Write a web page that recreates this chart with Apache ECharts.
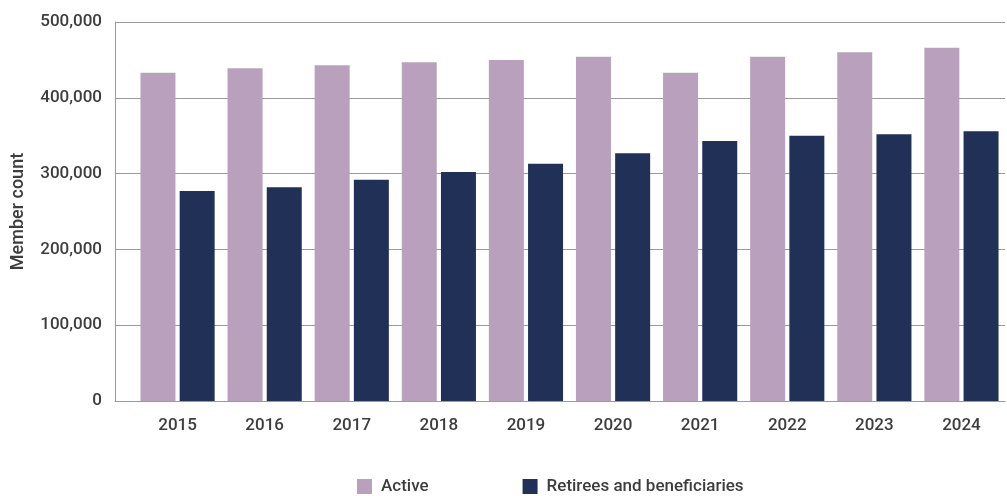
<!DOCTYPE html>
<html>
<head>
<meta charset="utf-8">
<title>Member count</title>
<script src="https://cdn.jsdelivr.net/npm/echarts@6/dist/echarts.min.js"></script>
<style>
  html, body { margin: 0; padding: 0; background: #fff; }
  #chart { width: 1007px; height: 496px; }
</style>
</head>
<body>
<div id="chart"></div>
<script>
// Plan membership by year
const years = ['2015', '2016', '2017', '2018', '2019', '2020', '2021', '2022', '2023', '2024'];
const activeMembers = [433000, 439000, 443000, 447000, 450000, 454000, 433000, 454000, 460000, 466000];
const retireesBeneficiaries = [277000, 282000, 292000, 302000, 313000, 327000, 343000, 350000, 352000, 356000];
const seriesNames = ['Active', 'Retirees and beneficiaries'];
const yMin = 0, yMax = 500000, yStep = 100000;

const textColor = '#3d3d3d';
const fontFamily = 'Roboto, "Noto Sans", sans-serif';

const chart = echarts.init(document.getElementById('chart'), null, { renderer: 'canvas' });

const fmt = v => v.toLocaleString('en-US');

chart.setOption({
  animation: false,
  textStyle: { fontFamily: fontFamily },
  legend: {
    data: seriesNames,
    left: 357,
    top: 478,
    padding: 0,
    itemWidth: 15,
    itemHeight: 15,
    itemGap: 94,
    icon: 'rect',
    textStyle: { color: textColor, fontSize: 17, fontWeight: 500, fontFamily: fontFamily, padding: [2, 0, 0, 4] }
  },
  grid: [
    // frame: value axis, gridlines and baseline
    { left: 115, right: 2, top: 22, bottom: 95, containLabel: false, outerBoundsMode: 'none' },
    // bars
    { left: 134, right: 2, top: 22, bottom: 95, containLabel: false, outerBoundsMode: 'none' }
  ],
  xAxis: [
    {
      gridIndex: 0,
      type: 'category',
      data: years,
      axisLine: { show: true, lineStyle: { color: '#9a9a9a', width: 1 } },
      axisTick: { show: false },
      axisLabel: { show: false }
    },
    {
      gridIndex: 1,
      type: 'category',
      data: years,
      axisLine: { show: false },
      axisTick: { show: false },
      axisLabel: { color: textColor, fontSize: 17, fontWeight: 500, margin: 16, fontFamily: fontFamily }
    }
  ],
  yAxis: [
    {
      gridIndex: 0,
      type: 'value',
      min: yMin,
      max: yMax,
      interval: yStep,
      name: 'Member count',
      nameLocation: 'middle',
      nameGap: 88,
      nameTextStyle: { color: textColor, fontSize: 18, fontWeight: 500, fontFamily: fontFamily },
      axisLine: { show: true, lineStyle: { color: '#9a9a9a', width: 1 } },
      axisTick: { show: false },
      axisLabel: { color: textColor, fontSize: 17, fontWeight: 500, margin: 13, formatter: fmt, fontFamily: fontFamily },
      splitLine: { show: true, lineStyle: { color: '#9a9a9a', width: 1 } }
    },
    {
      gridIndex: 1,
      type: 'value',
      min: yMin,
      max: yMax,
      interval: yStep,
      show: false,
      splitLine: { show: false }
    }
  ],
  series: [
    {
      name: seriesNames[0],
      type: 'bar',
      xAxisIndex: 1,
      yAxisIndex: 1,
      data: activeMembers,
      barWidth: 35,
      barGap: '12%',
      itemStyle: { color: '#b9a0bd' }
    },
    {
      name: seriesNames[1],
      type: 'bar',
      xAxisIndex: 1,
      yAxisIndex: 1,
      data: retireesBeneficiaries,
      barWidth: 35,
      barGap: '12%',
      itemStyle: { color: '#203057' }
    }
  ]
});
</script>
</body>
</html>
